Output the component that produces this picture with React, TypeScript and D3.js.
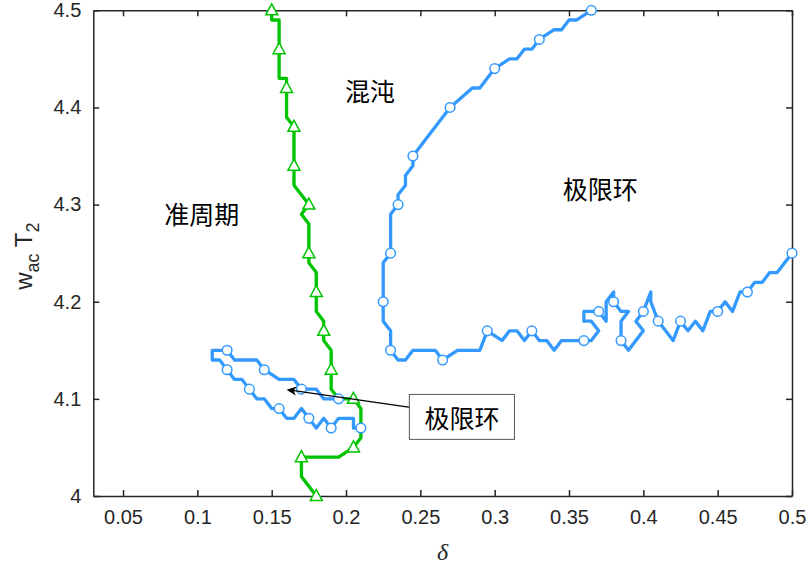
import React, { useEffect, useRef } from "react";
import * as d3 from "d3";

type Pt = [number, number];

const W = 811;
const H = 570;
const margin = { top: 10.3, right: 19, bottom: 74, left: 93.3 };

const xTicks = [0.05, 0.1, 0.15, 0.2, 0.25, 0.3, 0.35, 0.4, 0.45, 0.5];
const yTicks = [4, 4.1, 4.2, 4.3, 4.4, 4.5];

// 准周期 / 混沌 边界 (green)
const greenLine: Pt[] = [
  [0.15, 4.5], [0.15, 4.49], [0.155, 4.49], [0.155, 4.43], [0.16, 4.43], [0.16, 4.39],
  [0.165, 4.38], [0.165, 4.32], [0.175, 4.3], [0.17, 4.29], [0.175, 4.28], [0.175, 4.24],
  [0.18, 4.23], [0.18, 4.19], [0.185, 4.18], [0.185, 4.16], [0.19, 4.15], [0.19, 4.11],
  [0.195, 4.1], [0.205, 4.1], [0.21, 4.09], [0.21, 4.06], [0.205, 4.05], [0.195, 4.04],
  [0.17, 4.04], [0.17, 4.02], [0.18, 4.0],
];
const greenMarkers: Pt[] = [
  [0.15, 4.5], [0.155, 4.46], [0.16, 4.42], [0.165, 4.38], [0.165, 4.34], [0.175, 4.3],
  [0.175, 4.25], [0.18, 4.21], [0.185, 4.17], [0.19, 4.13], [0.205, 4.1], [0.205, 4.05],
  [0.17, 4.04], [0.18, 4.0],
];

// 混沌 / 极限环 边界 (blue)
const blueMain: Pt[] = [
  [0.365, 4.5], [0.355, 4.49], [0.35, 4.49], [0.345, 4.48], [0.34, 4.48], [0.33, 4.47],
  [0.325, 4.46], [0.32, 4.46], [0.315, 4.45], [0.31, 4.45], [0.3, 4.44], [0.29, 4.42],
  [0.285, 4.42], [0.27, 4.4], [0.245, 4.35], [0.245, 4.34], [0.24, 4.33], [0.24, 4.32],
  [0.235, 4.31], [0.235, 4.3], [0.23, 4.29], [0.23, 4.25], [0.225, 4.24], [0.225, 4.18],
  [0.23, 4.17], [0.23, 4.15], [0.235, 4.14], [0.24, 4.14], [0.245, 4.15], [0.26, 4.15],
  [0.265, 4.14], [0.275, 4.15], [0.29, 4.15], [0.295, 4.17], [0.305, 4.16], [0.31, 4.17],
  [0.315, 4.17], [0.32, 4.16], [0.325, 4.17], [0.33, 4.16], [0.335, 4.16], [0.34, 4.15],
  [0.345, 4.16], [0.36, 4.16], [0.365, 4.16], [0.37, 4.17], [0.365, 4.18], [0.36, 4.18],
  [0.36, 4.19], [0.37, 4.19], [0.375, 4.18], [0.375, 4.2], [0.38, 4.21], [0.38, 4.2],
  [0.385, 4.19], [0.39, 4.19], [0.385, 4.18], [0.385, 4.16], [0.39, 4.15], [0.4, 4.17],
  [0.395, 4.18], [0.4, 4.19], [0.405, 4.21], [0.405, 4.2], [0.41, 4.18], [0.415, 4.17],
  [0.42, 4.16], [0.425, 4.18], [0.43, 4.17], [0.435, 4.18], [0.44, 4.17], [0.445, 4.19],
  [0.45, 4.19], [0.455, 4.2], [0.46, 4.19], [0.465, 4.21], [0.47, 4.21], [0.475, 4.22],
  [0.48, 4.22], [0.485, 4.23], [0.49, 4.23], [0.5, 4.25],
];
const blueMainMarkers: Pt[] = [
  [0.365, 4.5], [0.33, 4.47], [0.3, 4.44], [0.27, 4.4], [0.245, 4.35], [0.235, 4.3],
  [0.23, 4.25], [0.225, 4.2], [0.23, 4.15], [0.265, 4.14], [0.295, 4.17], [0.325, 4.17],
  [0.36, 4.16], [0.37, 4.19], [0.38, 4.2], [0.385, 4.16], [0.4, 4.19], [0.41, 4.18],
  [0.425, 4.18], [0.45, 4.19], [0.47, 4.21], [0.5, 4.25],
];

// 小极限环区域 (blue loop)
const blueLoop: Pt[] = [
  [0.195, 4.1], [0.185, 4.1], [0.18, 4.11], [0.17, 4.11], [0.165, 4.12], [0.155, 4.12],
  [0.145, 4.13], [0.14, 4.14], [0.125, 4.14], [0.12, 4.15], [0.11, 4.15], [0.11, 4.14],
  [0.115, 4.14], [0.12, 4.13], [0.125, 4.12], [0.13, 4.12], [0.135, 4.11], [0.14, 4.1],
  [0.145, 4.1], [0.15, 4.09], [0.155, 4.09], [0.16, 4.08], [0.165, 4.08], [0.17, 4.09],
  [0.175, 4.08], [0.18, 4.07], [0.185, 4.08], [0.19, 4.07], [0.195, 4.08], [0.205, 4.08],
  [0.205, 4.07], [0.21, 4.07],
];
const blueLoopMarkers: Pt[] = [
  [0.195, 4.1], [0.17, 4.11], [0.145, 4.13], [0.12, 4.15], [0.12, 4.13], [0.135, 4.11],
  [0.155, 4.09], [0.175, 4.08], [0.19, 4.07], [0.21, 4.07],
];

const regionLabels = [
  { text: "混沌", x: 0.2162, y: 4.418 },
  { text: "准周期", x: 0.103, y: 4.291 },
  { text: "极限环", x: 0.371, y: 4.317 },
];
const boxLabel = { text: "极限环", x0: 0.2426, x1: 0.3133, y0: 4.0583, y1: 4.1046 };
const arrowFrom: Pt = [0.2432, 4.0913];
const arrowTo: Pt = [0.16, 4.1095];

const GREEN = "#00c400";
const BLUE = "#3399ff";
const AXIS = "#262626";

function fmt(v: number) {
  return String(+v.toFixed(2));
}

export default function App() {
  const ref = useRef<SVGSVGElement>(null);

  useEffect(() => {
    const w = W - margin.left - margin.right;
    const h = H - margin.top - margin.bottom;
    const svg = d3.select(ref.current);
    svg.selectAll("*").remove();

    const x = d3.scaleLinear().domain([0.03, 0.5]).range([0, w]);
    const y = d3.scaleLinear().domain([4, 4.5]).range([h, 0]);

    const g = svg.append("g").attr("transform", `translate(${margin.left},${margin.top})`);

    // axes (MATLAB style: ticks inside, box on)
    const tickFont = "'Liberation Sans', Arial, sans-serif";
    const bottom = g.append("g").attr("transform", `translate(0,${h})`)
      .call(d3.axisBottom(x).tickValues(xTicks).tickFormat((d) => fmt(+d)).tickSizeInner(-6).tickSizeOuter(0).tickPadding(14));
    const left = g.append("g")
      .call(d3.axisLeft(y).tickValues(yTicks).tickFormat((d) => fmt(+d)).tickSizeInner(-6).tickSizeOuter(0).tickPadding(12));
    const top = g.append("g")
      .call(d3.axisTop(x).tickValues(xTicks).tickFormat(() => "").tickSizeInner(-6).tickSizeOuter(0));
    const right = g.append("g").attr("transform", `translate(${w},0)`)
      .call(d3.axisRight(y).tickValues(yTicks).tickFormat(() => "").tickSizeInner(-6).tickSizeOuter(0));
    [bottom, left, top, right].forEach((a) => {
      a.select(".domain").attr("stroke", AXIS).attr("stroke-width", 1.5);
      a.selectAll(".tick line").attr("stroke", AXIS).attr("stroke-width", 1.5);
      a.selectAll(".tick text").attr("fill", AXIS).style("font-family", tickFont).style("font-size", "20px");
    });

    const line = d3.line<Pt>().x((d) => x(d[0])).y((d) => y(d[1]));

    const series = [
      { pts: greenLine, marks: greenMarkers, color: GREEN, shape: "tri" },
      { pts: blueMain, marks: blueMainMarkers, color: BLUE, shape: "circ" },
      { pts: blueLoop, marks: blueLoopMarkers, color: BLUE, shape: "circ" },
    ];

    series.forEach((s) => {
      g.append("path")
        .datum(s.pts)
        .attr("d", line)
        .attr("fill", "none")
        .attr("stroke", s.color)
        .attr("stroke-width", 3.3)
        .attr("stroke-linejoin", "round")
        .attr("stroke-linecap", "round");
    });
    series.forEach((s) => {
      if (s.shape === "tri") {
        g.selectAll(null)
          .data(s.marks)
          .enter().append("path")
          .attr("d", "M0,-6.5L6,4.5L-6,4.5Z")
          .attr("transform", (d) => `translate(${x(d[0])},${y(d[1])})`)
          .attr("fill", "white")
          .attr("stroke", s.color)
          .attr("stroke-width", 1.5);
      } else {
        g.selectAll(null)
          .data(s.marks)
          .enter().append("circle")
          .attr("cx", (d) => x(d[0]))
          .attr("cy", (d) => y(d[1]))
          .attr("r", 4.8)
          .attr("fill", "white")
          .attr("stroke", s.color)
          .attr("stroke-width", 1.5);
      }
    });

    const cjk = "'Noto Sans CJK SC', sans-serif";

    regionLabels.forEach((l) => {
      g.append("text")
        .attr("x", x(l.x))
        .attr("y", y(l.y))
        .attr("text-anchor", "middle")
        .attr("dominant-baseline", "central")
        .style("font-family", cjk)
        .style("font-size", "25px")
        .attr("fill", "#000")
        .text(l.text);
    });

    // arrow annotation
    const ax0 = x(arrowFrom[0]), ay0 = y(arrowFrom[1]);
    const ax1 = x(arrowTo[0]), ay1 = y(arrowTo[1]);
    const ang = Math.atan2(ay1 - ay0, ax1 - ax0);
    const L = 10, hw = 4.5, notch = 3;
    const ux = Math.cos(ang), uy = Math.sin(ang);
    const bx = ax1 - ux * L, by = ay1 - uy * L;
    g.append("line")
      .attr("x1", ax0).attr("y1", ay0)
      .attr("x2", ax1 - ux * 4).attr("y2", ay1 - uy * 4)
      .attr("stroke", "#000").attr("stroke-width", 1.3);
    g.append("path")
      .attr("d", `M${ax1},${ay1}L${bx - uy * hw},${by + ux * hw}L${ax1 - ux * (L - notch)},${ay1 - uy * (L - notch)}L${bx + uy * hw},${by - ux * hw}Z`)
      .attr("fill", "#000");

    g.append("rect")
      .attr("x", x(boxLabel.x0))
      .attr("y", y(boxLabel.y1))
      .attr("width", x(boxLabel.x1) - x(boxLabel.x0))
      .attr("height", y(boxLabel.y0) - y(boxLabel.y1))
      .attr("fill", "white")
      .attr("stroke", "#555")
      .attr("stroke-width", 1);
    g.append("text")
      .attr("x", (x(boxLabel.x0) + x(boxLabel.x1)) / 2)
      .attr("y", (y(boxLabel.y0) + y(boxLabel.y1)) / 2)
      .attr("text-anchor", "middle")
      .attr("dominant-baseline", "central")
      .style("font-family", cjk)
      .style("font-size", "25px")
      .attr("fill", "#000")
      .text(boxLabel.text);

    // x label
    g.append("text")
      .attr("x", w / 2)
      .attr("y", h + 64)
      .attr("text-anchor", "middle")
      .style("font-family", "'Liberation Serif', 'Times New Roman', serif")
      .style("font-style", "italic")
      .style("font-size", "24px")
      .attr("fill", AXIS)
      .text("δ");

    // y label
    const yl = g.append("text")
      .attr("transform", `translate(${-61},${h / 2 + 3}) rotate(-90)`)
      .attr("text-anchor", "middle")
      .style("font-family", tickFont)
      .style("font-size", "24px")
      .attr("fill", AXIS);
    yl.append("tspan").text("w");
    yl.append("tspan").attr("dy", 7).style("font-size", "18px").text("ac");
    yl.append("tspan").attr("dy", -7).text(" T");
    yl.append("tspan").attr("dy", 7).style("font-size", "18px").text("2");
  }, []);

  return (
    <svg
      ref={ref}
      width={W}
      height={H}
      style={{ position: "absolute", left: 0, top: 0, background: "white" }}
    />
  );
}
